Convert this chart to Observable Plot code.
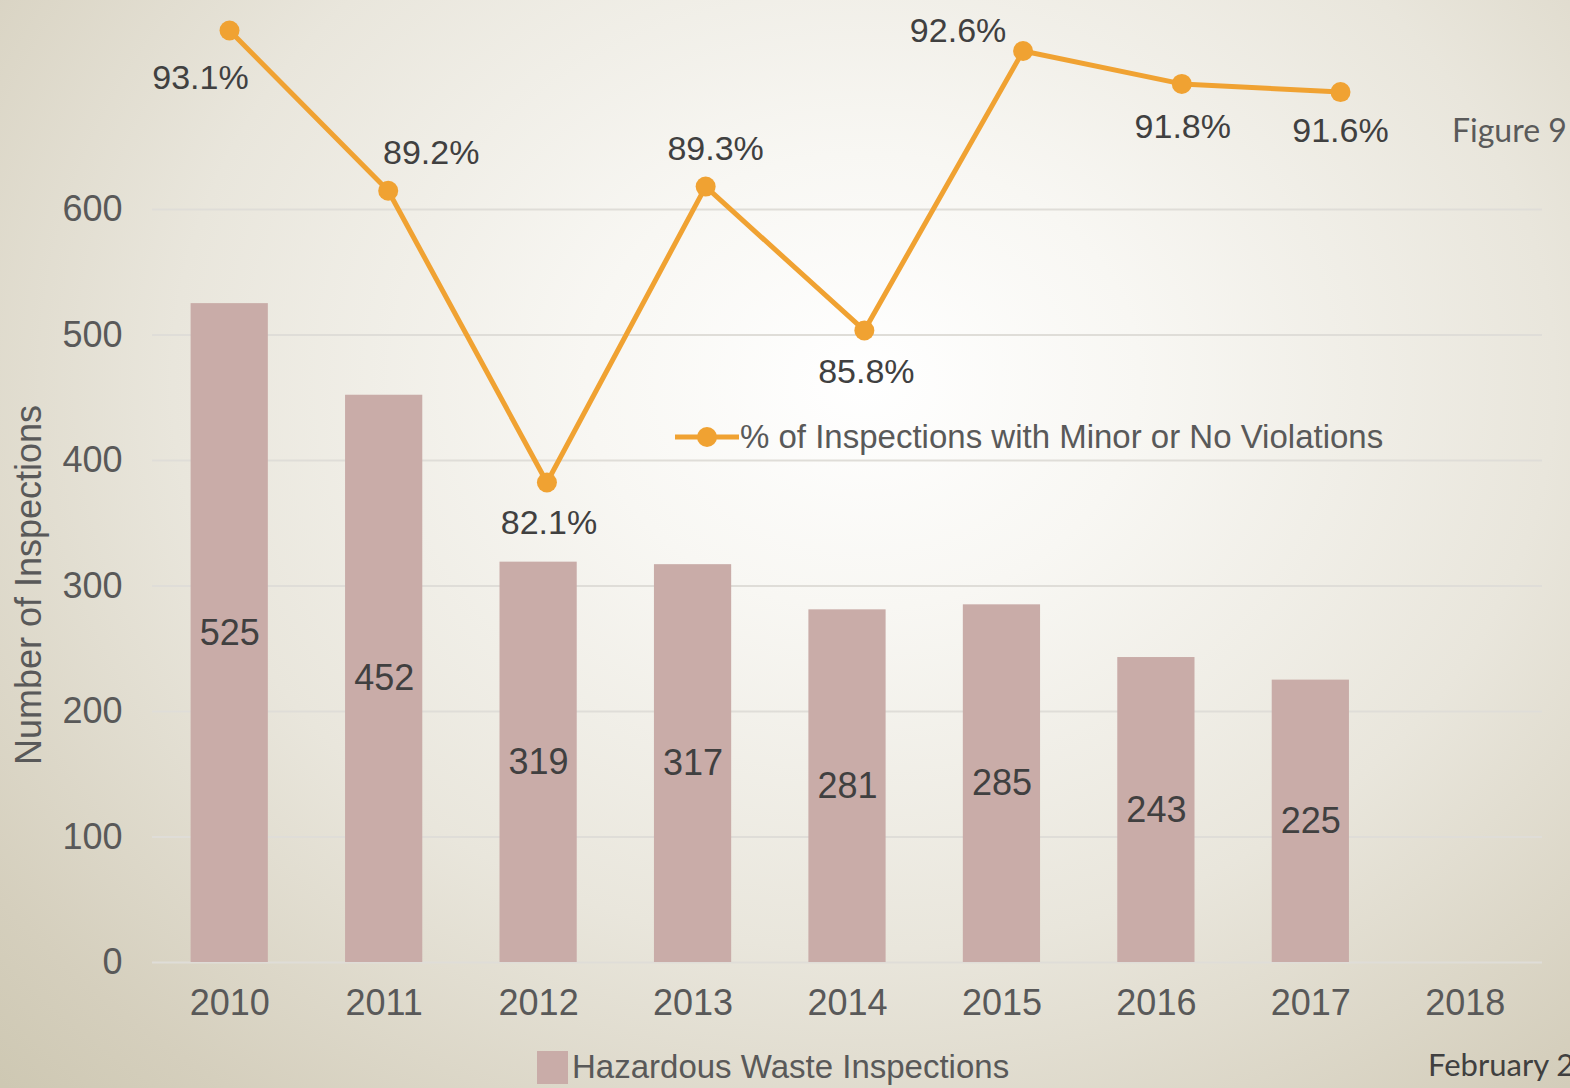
<!DOCTYPE html>
<html>
<head>
<meta charset="utf-8">
<script src="https://cdn.jsdelivr.net/npm/d3@7"></script>
<script src="https://cdn.jsdelivr.net/npm/@observablehq/plot@0.6"></script>
<style>
  html, body { margin: 0; padding: 0; }
  #wrap {
    position: relative; width: 1570px; height: 1088px; overflow: hidden;
    background: radial-gradient(ellipse 80% 95% at 55% 35%, #ffffff 0%, #f8f7f3 22%, #e9e6dc 55%, #d5cfbd 85%, #ccc6b0 100%);
    font-family: "Liberation Sans", Arial, sans-serif;
  }
  #wrap svg { position: absolute; left: 0; top: 0; }
  .abs { position: absolute; white-space: nowrap; }
</style>
</head>
<body>
<div id="wrap"></div>
<script>
// ---- data ----
const years = ["2010","2011","2012","2013","2014","2015","2016","2017","2018"];
const inspections = [525, 452, 319, 317, 281, 285, 243, 225];
const pctYears = ["2010","2011","2012","2013","2014","2015","2016","2017"];
const pctMinorNone = [93.1, 89.2, 82.1, 89.3, 85.8, 92.6, 91.8, 91.6];
const yTicks = [0, 100, 200, 300, 400, 500, 600];
const barSeriesName = "Hazardous Waste Inspections";
const lineSeriesName = "% of Inspections with Minor or No Violations";
const yAxisTitle = "Number of Inspections";

// label placement (style only)
const pctLabelOffsets = [[-29,48],[43,-38],[2,41],[10,-38],[2,42],[-65,-20],[1,43],[0,39]];

const bars = inspections.map((v, i) => ({year: years[i], value: v}));
const pts = pctMinorNone.map((v, i) => ({year: pctYears[i], pct: v}));

const W = 1570, H = 1088;
const FONT = "'Liberation Sans', Arial, sans-serif";
const baseStyle = {background: "transparent", overflow: "visible", color: "#595959", fontFamily: FONT};

const wrap = document.getElementById("wrap");

const p1 = Plot.plot({
  width: W, height: H,
  marginLeft: 152, marginRight: 28, marginTop: 209, marginBottom: 126,
  style: baseStyle,
  x: {type: "band", domain: years, paddingInner: 0.5, paddingOuter: 0.25, round: false, axis: null},
  y: {domain: [0, 600], axis: null},
  marks: [
    Plot.ruleY(yTicks, {stroke: "#dfddd8", strokeWidth: 2}),
    Plot.barY(bars, {x: "year", y: "value", fill: "#c9aca8"}),
    Plot.text(bars, {x: "year", y: d => d.value / 2, text: d => String(d.value), fontSize: 36, fill: "#404040"}),
    Plot.axisY(yTicks, {tickSize: 0, tickPadding: 30, fontSize: 36, label: null}),
    Plot.axisX({tickSize: 0, tickPadding: 27, fontSize: 36, label: null})
  ]
});
wrap.appendChild(p1);

// line series drawn on its own (secondary) scales
const p2 = Plot.plot({
  width: W, height: H,
  marginLeft: 229, marginRight: 230, marginTop: 0, marginBottom: 0,
  style: baseStyle,
  x: {type: "point", domain: pctYears, padding: 0, round: false, axis: null},
  y: {domain: [70, 95], range: [979.2, -48.1], axis: null},
  marks: [
    Plot.line(pts, {x: "year", y: "pct", stroke: "#f0a232", strokeWidth: 5}),
    Plot.dot(pts, {x: "year", y: "pct", r: 10, fill: "#f0a232"}),
    ...pts.map((d, i) => Plot.text([d], {
      x: "year", y: "pct", text: p => p.pct.toFixed(1) + "%",
      dx: pctLabelOffsets[i][0], dy: pctLabelOffsets[i][1],
      fontSize: 34, fill: "#404040"
    }))
  ]
});
wrap.appendChild(p2);

function addDiv(html, css) {
  const d = document.createElement("div");
  d.className = "abs";
  d.innerHTML = html;
  Object.assign(d.style, css);
  wrap.appendChild(d);
  return d;
}

// y axis title
addDiv(yAxisTitle, {left: "29px", top: "585px", transform: "translate(-50%,-50%) rotate(-90deg)", fontSize: "36px", color: "#595959"});

// line legend
addDiv(
  '<svg width="64" height="24" style="vertical-align:middle;position:static"><line x1="0" y1="12" x2="64" y2="12" stroke="#f0a232" stroke-width="5"/><circle cx="32" cy="12" r="10" fill="#f0a232"/></svg>' +
  '<span style="vertical-align:middle;margin-left:1px;">' + lineSeriesName + '</span>',
  {left: "675px", top: "413px", fontSize: "33px", color: "#595959", lineHeight: "44px"}
);

// bar legend
addDiv(
  '<span style="display:inline-block;width:31px;height:33px;background:#c9aca8;vertical-align:middle;margin-right:4px"></span>' +
  '<span style="vertical-align:middle">' + barSeriesName + '</span>',
  {left: "537px", top: "1043px", fontSize: "33px", color: "#595959", lineHeight: "44px"}
);

// slide decorations
addDiv("Figure 9", {left: "1452px", top: "110px", fontSize: "32px", color: "#5a5a5a", fontFamily: "Lato, 'Open Sans', sans-serif"});
addDiv("February 2018", {left: "1428px", top: "1045px", fontSize: "31px", color: "#404040", fontFamily: "Lato, 'Open Sans', sans-serif"});
</script>
</body>
</html>
